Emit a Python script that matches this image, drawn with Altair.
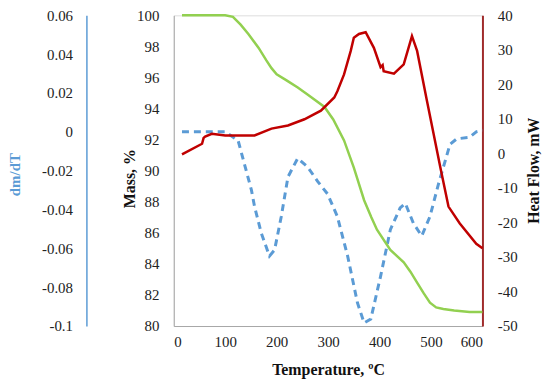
import altair as alt
import pandas as pd

# Mass, % (green)
temp_mass = [16, 60, 100, 115, 130, 145, 165, 180, 190, 200, 220, 241, 260, 293, 310,
             331, 350, 370, 384, 395, 421, 447, 460, 473, 486, 498, 510, 524, 545, 575, 600]
mass = [100, 100, 100, 99.9, 99.4, 98.8, 97.9, 97.1, 96.6, 96.2, 95.8, 95.35, 94.9, 94.1, 93.3,
        91.95, 90.2, 88.1, 87.0, 86.2, 84.9, 84.1, 83.5, 82.8, 82.1, 81.5, 81.2, 81.1, 81.0, 80.9, 80.9]

# dm/dT (blue dashed)
temp_dm = [16, 60, 100, 125, 151, 157, 170, 186, 196, 209, 222, 241, 260, 280, 299, 318,
           338, 357, 370, 383, 402, 421, 440, 450, 466, 482, 498, 515, 537, 550, 575, 588, 600]
dmdt = [0.0, 0.0, 0.0, -0.0044, -0.030, -0.0384, -0.052, -0.064, -0.0608, -0.0436, -0.0232,
        -0.0136, -0.018, -0.0256, -0.032, -0.0436, -0.064, -0.088, -0.0984, -0.0964, -0.0744,
        -0.0504, -0.0392, -0.0368, -0.0472, -0.0536, -0.0436, -0.0264, -0.0064, -0.0036,
        -0.0028, 0.0, 0.0008]

# Heat Flow, mW (red)
temp_hf = [16, 55, 58, 61, 74, 100, 157, 190, 222, 254, 286, 312, 318, 331, 344, 350, 360, 373,
           389, 402, 406, 408, 428, 447, 463, 473, 492, 518, 534, 556, 588, 600]
heat_flow = [-0.3, 2.8, 4.5, 4.9, 5.7, 5.2, 5.2, 7.2, 8.1, 9.9, 12.4, 16.2, 18.0, 22.9, 29.7,
             33.5, 34.6, 35.1, 30.6, 25.0, 25.6, 23.8, 23.1, 25.8, 34.0, 29.7, 15.3, -3.9,
             -15.4, -20.3, -26.2, -27.5]

x_ticks = [0, 100, 200, 300, 400, 500, 600]
mass_ticks = [80, 82, 84, 86, 88, 90, 92, 94, 96, 98, 100]
dm_ticks = [-0.1, -0.08, -0.06, -0.04, -0.02, 0, 0.02, 0.04, 0.06]
hf_ticks = [-50, -40, -30, -20, -10, 0, 10, 20, 30, 40]

FONT = "Times New Roman"

df_mass = pd.DataFrame({"T": temp_mass, "v": mass})
df_dm = pd.DataFrame({"T": temp_dm, "v": dmdt})
df_hf = pd.DataFrame({"T": temp_hf, "v": heat_flow})

x_enc = alt.X(
    "T:Q",
    scale=alt.Scale(domain=[0, 600], nice=False),
    axis=alt.Axis(
        values=x_ticks, title="Temperature, ºC", grid=False, ticks=False,
        domainColor="#a6a6a6", labelPadding=9, labelFont=FONT, labelFontSize=15,
        labelColor="#222", titleFont=FONT, titleFontSize=16, titleFontWeight="bold",
        titleColor="#111", titleY=44, titleBaseline="middle",
    ),
)

dm_layer = alt.Chart(df_dm).mark_line(
    color="#5b9bd5", strokeWidth=3, strokeDash=[7, 5]
).encode(
    x=x_enc,
    y=alt.Y(
        "v:Q",
        scale=alt.Scale(domain=[-0.1, 0.06], nice=False, zero=False),
        axis=alt.Axis(
            orient="left", offset=88, values=dm_ticks, title="dm/dT", grid=False,
            ticks=False, domainColor="#5b9bd5", domainWidth=1.5, labelPadding=14,
            labelFont=FONT, labelFontSize=15, labelColor="#222",
            labelExpr="'' + datum.value",
            titleFont=FONT, titleFontSize=15, titleFontWeight="bold", titleColor="#5b9bd5",
            titleX=-72, titleY=160, titleBaseline="middle", titleAngle=270,
        ),
    ),
)

mass_layer = alt.Chart(df_mass).mark_line(color="#92d050", strokeWidth=2.5).encode(
    x=x_enc,
    y=alt.Y(
        "v:Q",
        scale=alt.Scale(domain=[80, 100], nice=False, zero=False),
        axis=alt.Axis(
            orient="left", values=mass_ticks, title="Mass, %", grid=False, ticks=False,
            domainColor="#a6a6a6", labelPadding=15, labelFont=FONT, labelFontSize=15,
            labelColor="#222", titleFont=FONT, titleFontSize=16, titleFontWeight="bold",
            titleColor="#111", titleX=-45, titleY=164, titleBaseline="middle", titleAngle=270,
        ),
    ),
)

hf_layer = alt.Chart(df_hf).mark_line(color="#c00000", strokeWidth=2.5).encode(
    x=x_enc,
    y=alt.Y(
        "v:Q",
        scale=alt.Scale(domain=[-50, 40], nice=False, zero=False),
        axis=alt.Axis(
            orient="right", values=hf_ticks, title="Heat Flow, mW", grid=False, ticks=False,
            domainColor="#a02b2b", domainWidth=2, labelPadding=15, labelFont=FONT,
            labelFontSize=15, labelColor="#222", labelExpr="'' + datum.value",
            titleFont=FONT, titleFontSize=16, titleFontWeight="bold", titleColor="#111",
            titleX=51, titleY=156, titleBaseline="middle", titleAngle=270,
        ),
    ),
)

chart = alt.layer(dm_layer, mass_layer, hf_layer).resolve_scale(y="independent").properties(
    width=311,
    height=313,
    autosize=alt.AutoSizeParams(type="none"),
    padding={"left": 167, "top": 6, "right": 60, "bottom": 56},
).configure_view(stroke=None).configure(font=FONT)

chart.save("out.html", embed_options={"renderer": "svg", "actions": False})
